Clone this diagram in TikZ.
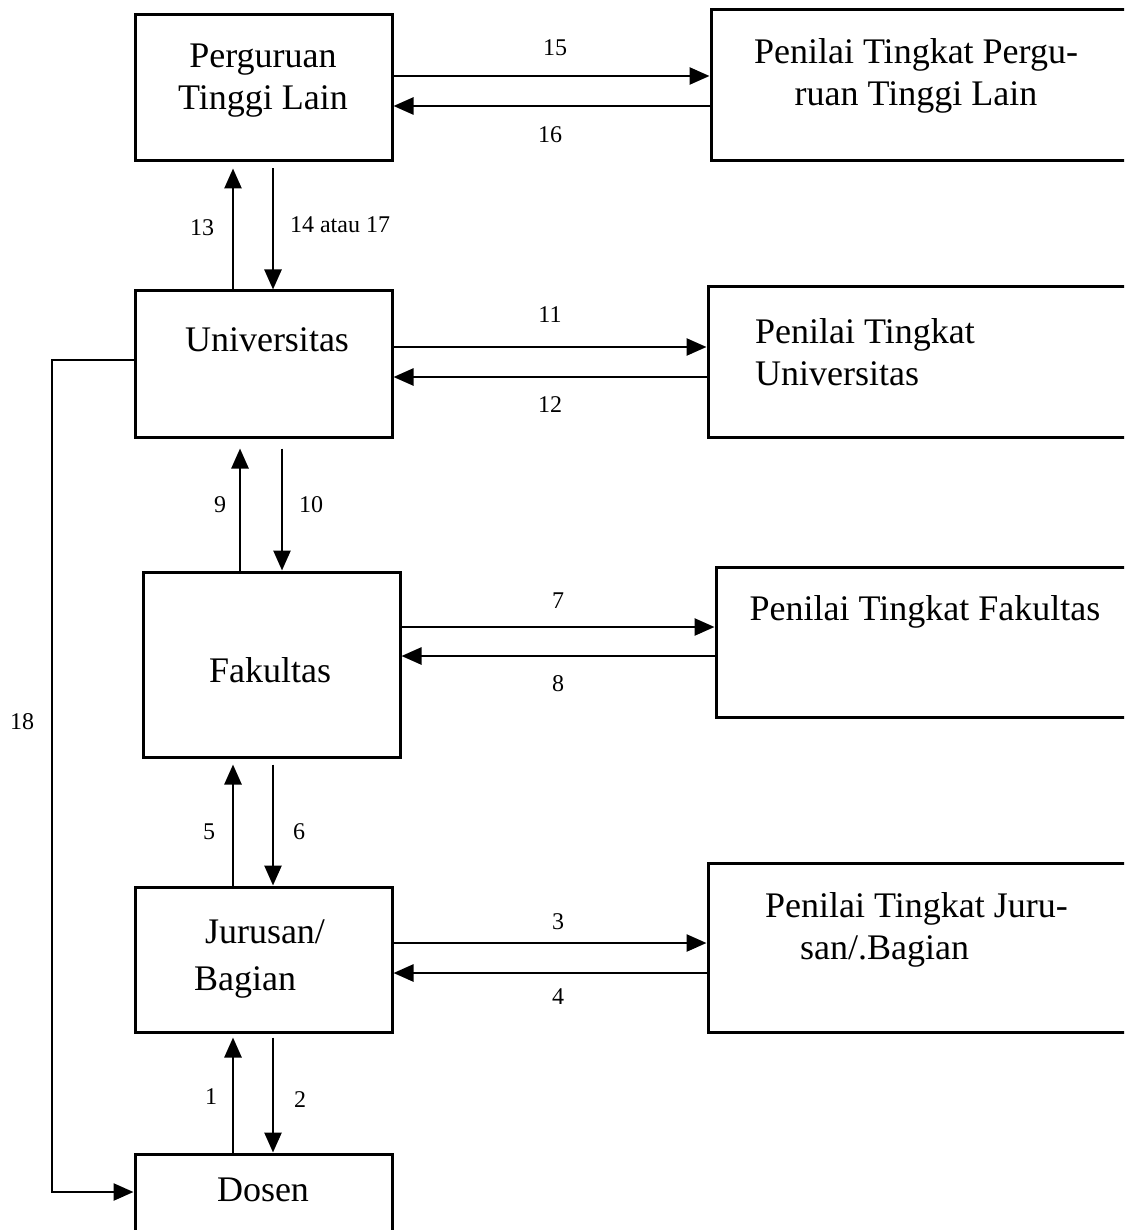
\documentclass[tikz,border=0pt]{standalone}
\usepackage{fontspec}
\setmainfont{Liberation Serif}
\usetikzlibrary{arrows.meta}
\begin{document}
\begin{tikzpicture}[x=1pt,y=-1pt,
  box/.style={draw, line width=3pt, rectangle, inner sep=0pt},
  txt/.style={font=\fontsize{36}{42}\selectfont, inner sep=0pt, align=center},
  lbl/.style={font=\fontsize{24}{28}\selectfont, inner sep=0pt},
  arr/.style={line width=2.6pt, -{Triangle[length=20pt,width=17pt]}}]
\useasboundingbox (0,0) rectangle (1124,1230);
\clip (0,0) rectangle (1124,1230);
\fill[white] (0,0) rectangle (1124,1230);
% boxes
\node[box, minimum width=257pt, minimum height=146pt] (pt) at (263.5,88) {};
\node[box, minimum width=425pt, minimum height=151pt] (ppt) at (923.5,85.5) {};
\node[box, minimum width=257pt, minimum height=146pt] (un) at (263.5,364) {};
\node[box, minimum width=428pt, minimum height=150pt] (pu) at (922,362) {};
\node[box, minimum width=257pt, minimum height=185pt] (fa) at (271.5,664.5) {};
\node[box, minimum width=420pt, minimum height=150pt] (pf) at (926,642) {};
\node[box, minimum width=257pt, minimum height=145pt] (ju) at (263.5,959.5) {};
\node[box, minimum width=428pt, minimum height=169pt] (pj) at (922,947.5) {};
\node[box, minimum width=257pt, minimum height=80pt] (do) at (263.5,1194) {};
% texts
\node[txt] (tpt) at (263,81) {Perguruan\\Tinggi Lain};
\node[txt] (tppt) at (916,76) {Penilai Tingkat Pergu-\\ruan Tinggi Lain};
\node[txt] (tun) at (267,340) {Universitas};
\node[txt, align=left, anchor=west] (tpu) at (755,352) {Penilai Tingkat\\Universitas};
\node[txt] (tfa) at (270,670) {Fakultas};
\node[txt] (tpf) at (925,612) {Penilai Tingkat Fakultas};
\node[txt] (tju1) at (265,932) {Jurusan/};
\node[txt] (tju2) at (245,982) {Bagian};
\node[txt, anchor=west] (tpj1) at (765,909) {Penilai Tingkat Juru-};
\node[txt, anchor=west] (tpj2) at (800,951) {san/.Bagian};
\node[txt] (tdo) at (263,1190) {Dosen};
% horizontal arrows
\draw[arr] (pt.east |- 0,76) -- (ppt.west |- 0,76);
\draw[arr] (ppt.west |- 0,106) -- (pt.east |- 0,106);
\draw[arr] (un.east |- 0,347) -- (pu.west |- 0,347);
\draw[arr] (pu.west |- 0,377) -- (un.east |- 0,377);
\draw[arr] (fa.east |- 0,627) -- (pf.west |- 0,627);
\draw[arr] (pf.west |- 0,656) -- (fa.east |- 0,656);
\draw[arr] (ju.east |- 0,943) -- (pj.west |- 0,943);
\draw[arr] (pj.west |- 0,973) -- (ju.east |- 0,973);
% vertical arrows
\draw[arr, shorten >=6pt] (un.north -| 233,0) -- (pt.south -| 233,0);
\draw[arr, shorten <=6pt] (pt.south -| 273,0) -- (un.north -| 273,0);
\draw[arr, shorten >=10pt] (fa.north -| 240,0) -- (un.south -| 240,0);
\draw[arr, shorten <=10pt] (un.south -| 282,0) -- (fa.north -| 282,0);
\draw[arr, shorten >=6pt] (ju.north -| 233,0) -- (fa.south -| 233,0);
\draw[arr, shorten <=6pt] (fa.south -| 273,0) -- (ju.north -| 273,0);
\draw[arr, shorten >=4pt] (do.north -| 233,0) -- (ju.south -| 233,0);
\draw[arr, shorten <=4pt] (ju.south -| 273,0) -- (do.north -| 273,0);
% line 18
\coordinate (k1) at (52,360);
\coordinate (k2) at (52,1192);
\draw[arr] (un.west |- k1) -- (k1) -- (k2) -- (do.west |- k2);
% labels
\node[lbl] (l15) at (555,48) {15};
\node[lbl] (l16) at (550,135) {16};
\node[lbl] (l13) at (202,228) {13};
\node[lbl] (l14) at (340,225) {14 atau 17};
\node[lbl] (l11) at (550,315) {11};
\node[lbl] (l12) at (550,405) {12};
\node[lbl] (l9) at (220,505) {9};
\node[lbl] (l10) at (311,505) {10};
\node[lbl] (l7) at (558,601) {7};
\node[lbl] (l8) at (558,684) {8};
\node[lbl] (l5) at (209,832) {5};
\node[lbl] (l6) at (299,832) {6};
\node[lbl] (l3) at (558,922) {3};
\node[lbl] (l4) at (558,997) {4};
\node[lbl] (l1) at (211,1097) {1};
\node[lbl] (l2) at (300,1100) {2};
\node[lbl] (l18) at (22,722) {18};
\end{tikzpicture}
\end{document}
